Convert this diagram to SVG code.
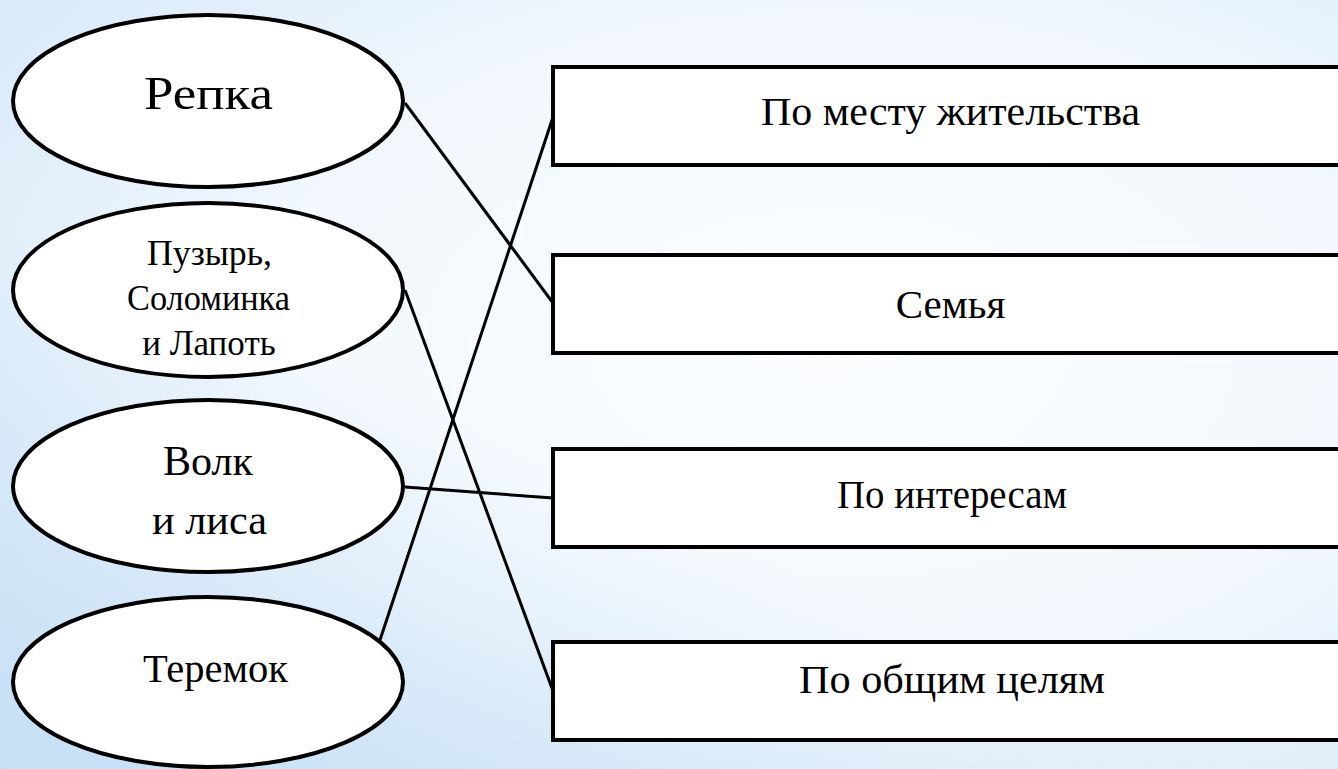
<svg xmlns="http://www.w3.org/2000/svg" width="1338" height="769" viewBox="0 0 1338 769">
<defs>
<radialGradient id="bg" cx="0.62" cy="0.45" r="0.75">
<stop offset="0" stop-color="#fbfdff"/>
<stop offset="0.55" stop-color="#f2f8fd"/>
<stop offset="1" stop-color="#d9eaf9"/>
</radialGradient>
<linearGradient id="bl" x1="0" y1="1" x2="0.35" y2="0.55">
<stop offset="0" stop-color="#c4def5" stop-opacity="0.85"/>
<stop offset="1" stop-color="#c4def5" stop-opacity="0"/>
</linearGradient>
<style>
.n{fill:#ffffff;stroke:#000000;stroke-width:4}
.t{fill:#000000;text-anchor:middle}
.c line{stroke:#000000;stroke-width:3}
</style>
</defs>
<rect width="1338" height="769" fill="url(#bg)"/>
<rect width="1338" height="769" fill="url(#bl)"/>
<g class="c" id="connectors">
<line x1="405" y1="103" x2="553" y2="303"/>
<line x1="380" y1="640" x2="553" y2="117"/>
<line x1="405" y1="290" x2="553" y2="691"/>
<line x1="405" y1="487" x2="553" y2="498"/>
</g>
<g font-family="'Liberation Serif', 'Times New Roman', serif">
<g id="n1"><ellipse class="n" cx="208" cy="101" rx="195" ry="86"/><text class="t" x="208.5" y="109" font-size="46" textLength="129" lengthAdjust="spacingAndGlyphs">Репка</text></g>
<g id="n2"><ellipse class="n" cx="208" cy="290" rx="195" ry="87"/>
<text class="t" x="209.5" y="265" font-size="35" textLength="125" lengthAdjust="spacingAndGlyphs">Пузырь,</text>
<text class="t" x="208.5" y="310" font-size="35" textLength="163" lengthAdjust="spacingAndGlyphs">Соломинка</text>
<text class="t" x="209" y="355" font-size="35">и Лапоть</text></g>
<g id="n3"><ellipse class="n" cx="208" cy="486" rx="195" ry="86"/>
<text class="t" x="208" y="475" font-size="42" textLength="90" lengthAdjust="spacingAndGlyphs">Волк</text>
<text class="t" x="209.5" y="534" font-size="42" textLength="115" lengthAdjust="spacingAndGlyphs">и лиса</text></g>
<g id="n4"><ellipse class="n" cx="208" cy="682" rx="195" ry="85"/><text class="t" x="215.5" y="682" font-size="41" textLength="145" lengthAdjust="spacingAndGlyphs">Теремок</text></g>
<g id="r1"><rect class="n" x="553" y="67" width="800" height="98"/><text class="t" x="950.5" y="125" font-size="41" textLength="379" lengthAdjust="spacingAndGlyphs">По месту жительства</text></g>
<g id="r2"><rect class="n" x="553" y="255" width="800" height="98"/><text class="t" x="950.5" y="318" font-size="41">Семья</text></g>
<g id="r3"><rect class="n" x="553" y="449" width="800" height="98"/><text class="t" x="952" y="508" font-size="41" textLength="230" lengthAdjust="spacingAndGlyphs">По интересам</text></g>
<g id="r4"><rect class="n" x="553" y="642" width="800" height="98"/><text class="t" x="952" y="693" font-size="41" textLength="306" lengthAdjust="spacingAndGlyphs">По общим целям</text></g>
</g>
</svg>
